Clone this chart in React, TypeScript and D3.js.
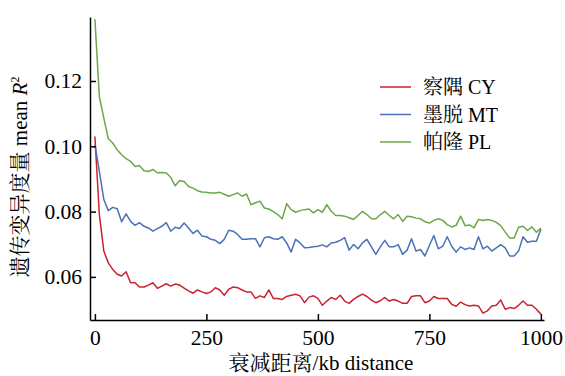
import React, { useEffect, useRef } from 'react';
import * as d3 from 'd3';

// distance in kb, one point every 10 kb
const distances = d3.range(0, 1001, 10);

const cyValues = [
  0.1030, 0.0791, 0.0679, 0.0643, 0.0623, 0.0608, 0.0603, 0.0616, 0.0582, 0.0582,
  0.0569, 0.0569, 0.0575, 0.0582, 0.0565, 0.0572, 0.0579, 0.0572, 0.0578, 0.0575,
  0.0566, 0.0557, 0.0550, 0.0560, 0.0554, 0.0549, 0.0554, 0.0567, 0.0560, 0.0544,
  0.0562, 0.0569, 0.0567, 0.0560, 0.0554, 0.0554, 0.0534, 0.0542, 0.0537, 0.0560,
  0.0534, 0.0534, 0.0531, 0.0540, 0.0544, 0.0547, 0.0542, 0.0521, 0.0538, 0.0542,
  0.0534, 0.0513, 0.0526, 0.0537, 0.0531, 0.0544, 0.0526, 0.0519, 0.0531, 0.0540,
  0.0547, 0.0540, 0.0529, 0.0521, 0.0527, 0.0537, 0.0526, 0.0531, 0.0526, 0.0519,
  0.0519, 0.0540, 0.0542, 0.0542, 0.0521, 0.0526, 0.0540, 0.0534, 0.0534, 0.0534,
  0.0516, 0.0510, 0.0523, 0.0515, 0.0511, 0.0513, 0.0511, 0.0489, 0.0496, 0.0511,
  0.0513, 0.0529, 0.0501, 0.0506, 0.0503, 0.0513, 0.0526, 0.0513, 0.0513, 0.0501,
  0.0486,
];

const mtValues = [
  0.1005, 0.0923, 0.0837, 0.0803, 0.0813, 0.0809, 0.0769, 0.0793, 0.0770, 0.0758,
  0.0766, 0.0755, 0.0750, 0.0740, 0.0748, 0.0755, 0.0766, 0.0740, 0.0752, 0.0748,
  0.0765, 0.0750, 0.0733, 0.0743, 0.0725, 0.0723, 0.0715, 0.0712, 0.0702, 0.0715,
  0.0743, 0.0740, 0.0730, 0.0715, 0.0715, 0.0717, 0.0717, 0.0692, 0.0720, 0.0723,
  0.0717, 0.0715, 0.0723, 0.0704, 0.0676, 0.0715, 0.0704, 0.0689, 0.0690, 0.0692,
  0.0694, 0.0698, 0.0692, 0.0704, 0.0706, 0.0712, 0.0720, 0.0682, 0.0699, 0.0686,
  0.0704, 0.0715, 0.0692, 0.0669, 0.0692, 0.0712, 0.0692, 0.0692, 0.0699, 0.0669,
  0.0682, 0.0717, 0.0679, 0.0684, 0.0664, 0.0696, 0.0727, 0.0686, 0.0694, 0.0723,
  0.0694, 0.0676, 0.0692, 0.0684, 0.0689, 0.0684, 0.0723, 0.0686, 0.0694, 0.0679,
  0.0689, 0.0699, 0.0689, 0.0664, 0.0664, 0.0679, 0.0723, 0.0706, 0.0709, 0.0709,
  0.0747,
];

const plValues = [
  0.1389, 0.1152, 0.1086, 0.1023, 0.1010, 0.0989, 0.0974, 0.0962, 0.0954, 0.0938,
  0.0941, 0.0925, 0.0923, 0.0929, 0.0919, 0.0920, 0.0918, 0.0905, 0.0879, 0.0895,
  0.0892, 0.0877, 0.0872, 0.0864, 0.0860, 0.0859, 0.0857, 0.0857, 0.0859, 0.0853,
  0.0847, 0.0852, 0.0857, 0.0847, 0.0854, 0.0821, 0.0827, 0.0832, 0.0811, 0.0808,
  0.0800, 0.0791, 0.0778, 0.0824, 0.0806, 0.0798, 0.0803, 0.0806, 0.0808, 0.0796,
  0.0806, 0.0798, 0.0821, 0.0801, 0.0788, 0.0788, 0.0786, 0.0781, 0.0776, 0.0788,
  0.0801, 0.0791, 0.0778, 0.0778, 0.0791, 0.0801, 0.0788, 0.0778, 0.0791, 0.0770,
  0.0786, 0.0784, 0.0780, 0.0778, 0.0769, 0.0765, 0.0773, 0.0778, 0.0773, 0.0760,
  0.0753, 0.0758, 0.0786, 0.0757, 0.0759, 0.0750, 0.0776, 0.0773, 0.0776, 0.0773,
  0.0767, 0.0757, 0.0737, 0.0719, 0.0719, 0.0752, 0.0755, 0.0742, 0.0753, 0.0737,
  0.0750,
];

const seriesNames = ['察隅 CY', '墨脱 MT', '帕隆 PL'];
const seriesColors = ['#c8232e', '#4a72b5', '#6aa84a'];
const xTicks = [0, 250, 500, 750, 1000];
const yTicks = [0.06, 0.08, 0.10, 0.12];

const width = 565;
const height = 376;
const font = "'Liberation Serif', 'Times New Roman', 'Noto Serif CJK SC', 'Noto Sans CJK SC', serif";

const App = () => {
  const svgRef = useRef(null);

  useEffect(() => {
    const svg = d3.select(svgRef.current);
    svg.selectAll('*').remove();

    const x = d3.scaleLinear().domain([-11, 1007]).range([90, 544]);
    const y = d3.scaleLinear().domain([0.0468, 0.1396]).range([320, 17]);

    const series = [cyValues, mtValues, plValues].map((vals, i) => ({
      name: seriesNames[i],
      color: seriesColors[i],
      values: vals.map((v, j) => ({ d: distances[j], v })),
    }));

    const line = d3.line()
      .x(p => x(p.d))
      .y(p => y(p.v));

    series.forEach(s => {
      svg.append('path')
        .datum(s.values)
        .attr('fill', 'none')
        .attr('stroke', s.color)
        .attr('stroke-width', 1.5)
        .attr('stroke-linejoin', 'round')
        .attr('d', line);
    });

    // axes, ticks point inward
    const xAxis = svg.append('g')
      .attr('transform', 'translate(0,320)')
      .call(d3.axisBottom(x).tickValues(xTicks).tickFormat(d3.format('d')).tickSizeInner(-6).tickSizeOuter(0).tickPadding(10));

    const yAxis = svg.append('g')
      .attr('transform', 'translate(90,0)')
      .call(d3.axisLeft(y).tickValues(yTicks).tickFormat(d3.format('.2f')).tickSizeInner(-6).tickSizeOuter(0).tickPadding(8));

    [xAxis, yAxis].forEach(a => {
      a.attr('font-family', font).attr('font-size', 21.5);
      a.selectAll('path, line').attr('stroke', '#000').attr('stroke-width', 1.5);
      a.selectAll('text').attr('fill', '#000');
    });

    svg.append('text')
      .attr('x', 321)
      .attr('y', 370)
      .attr('text-anchor', 'middle')
      .attr('font-family', font)
      .attr('font-size', 21)
      .text('衰减距离/kb distance');

    const yLabel = svg.append('text')
      .attr('transform', 'translate(27,177) rotate(-90)')
      .attr('text-anchor', 'middle')
      .attr('font-family', font)
      .attr('font-size', 21);
    yLabel.append('tspan').text('遗传变异度量 mean ');
    yLabel.append('tspan').attr('font-style', 'italic').text('R');
    yLabel.append('tspan').attr('font-size', 12).attr('dy', -8).text('2');

    const legend = svg.append('g')
      .selectAll('g')
      .data(series)
      .enter()
      .append('g')
      .attr('transform', (d, i) => `translate(380,${87 + i * 27.5})`);

    legend.append('line')
      .attr('x1', 0)
      .attr('x2', 31)
      .attr('stroke', d => d.color)
      .attr('stroke-width', 1.5);

    legend.append('text')
      .attr('x', 43)
      .attr('dy', '0.35em')
      .attr('font-family', font)
      .attr('font-size', 20)
      .text(d => d.name);
  }, []);

  return (
    <div style={{ position: 'absolute', left: 0, top: 0 }}>
      <svg ref={svgRef} width={width} height={height} style={{ display: 'block', background: '#fff' }}></svg>
    </div>
  );
};

export default App;
